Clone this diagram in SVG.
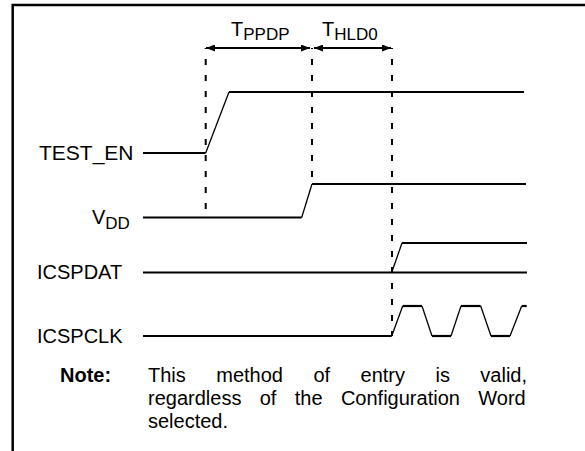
<svg xmlns="http://www.w3.org/2000/svg" width="585" height="451" viewBox="0 0 585 451">
<defs>
<marker id="ah" markerWidth="9" markerHeight="7" refX="9" refY="3.5" orient="auto-start-reverse" markerUnits="userSpaceOnUse">
<path d="M0,0 L9,3.5 L0,7 Z" fill="#000"/>
</marker>
<style>
text{font-family:"Liberation Sans",Arial,sans-serif;fill:#000;font-size:20px}
.sub{font-size:17px}
.sig{fill:none;stroke:#000;stroke-width:2.2;stroke-linejoin:miter}
.edge{fill:none;stroke:#000;stroke-width:1.3}
.dash{fill:none;stroke:#000;stroke-width:2;stroke-dasharray:6 10;stroke-dashoffset:5}
.arr{stroke:#000;stroke-width:2;marker-start:url(#ah);marker-end:url(#ah)}
.frame{stroke:#000;stroke-width:2.5;fill:none}
</style>
</defs>
<rect width="585" height="451" fill="#fff"/>
<g id="frame">
<path class="frame" d="M12.7,451 V5 H585"/>
</g>
<g id="timing-labels">
<text x="231" y="36">T<tspan class="sub" dy="4">PPDP</tspan></text>
<text x="322" y="36">T<tspan class="sub" dy="4">HLD0</tspan></text>
</g>
<g id="connectors">
<line class="arr" x1="206" y1="48" x2="310" y2="48"/>
<line class="arr" x1="314" y1="48" x2="391" y2="48"/>
<line class="dash" x1="205.7" y1="48" x2="205.7" y2="218"/>
<line class="dash" x1="312" y1="48" x2="312" y2="184"/>
<line class="dash" x1="392" y1="48" x2="392" y2="336"/>
</g>
<g id="TEST_EN">
<text x="39" y="160" style="font-size:21px">TEST_EN</text>
<path class="sig" d="M143,153 H205.7"/>
<path class="edge" d="M205.7,153 L229,92"/>
<path class="sig" d="M229,92 H524"/>
</g>
<g id="VDD">
<text x="92" y="224">V<tspan class="sub" dy="5">DD</tspan></text>
<path class="sig" d="M143,217.5 H301.7"/>
<path class="edge" d="M301.7,217.5 L312,184"/>
<path class="sig" d="M312,184 H526"/>
</g>
<g id="ICSPDAT">
<text x="37" y="279">ICSPDAT</text>
<path class="sig" d="M143,272.5 H527"/>
<path class="edge" d="M391.7,272.5 L402,243"/>
<path class="sig" d="M402,243 H527"/>
</g>
<g id="ICSPCLK">
<text x="37" y="343">ICSPCLK</text>
<path class="sig" d="M143,336 H391.7"/>
<path class="edge" d="M391.7,336 L402.7,306"/>
<path class="sig" d="M402.7,306 H422"/>
<path class="edge" d="M422,306 L432,336"/>
<path class="sig" d="M432,336 H451"/>
<path class="edge" d="M451,336 L461,306"/>
<path class="sig" d="M461,306 H480.7"/>
<path class="edge" d="M480.7,306 L491,336"/>
<path class="sig" d="M491,336 H510"/>
<path class="edge" d="M510,336 L521.7,306"/>
<path class="sig" d="M521.7,306 H526.7"/>
</g>
<g id="note">
<text x="60" y="382" font-weight="bold">Note:</text>
<text x="148" y="382" word-spacing="24.9">This method of entry is valid,</text>
<text x="148" y="405" word-spacing="12.8">regardless of the Configuration Word</text>
<text x="148" y="428">selected.</text>
</g>
</svg>
